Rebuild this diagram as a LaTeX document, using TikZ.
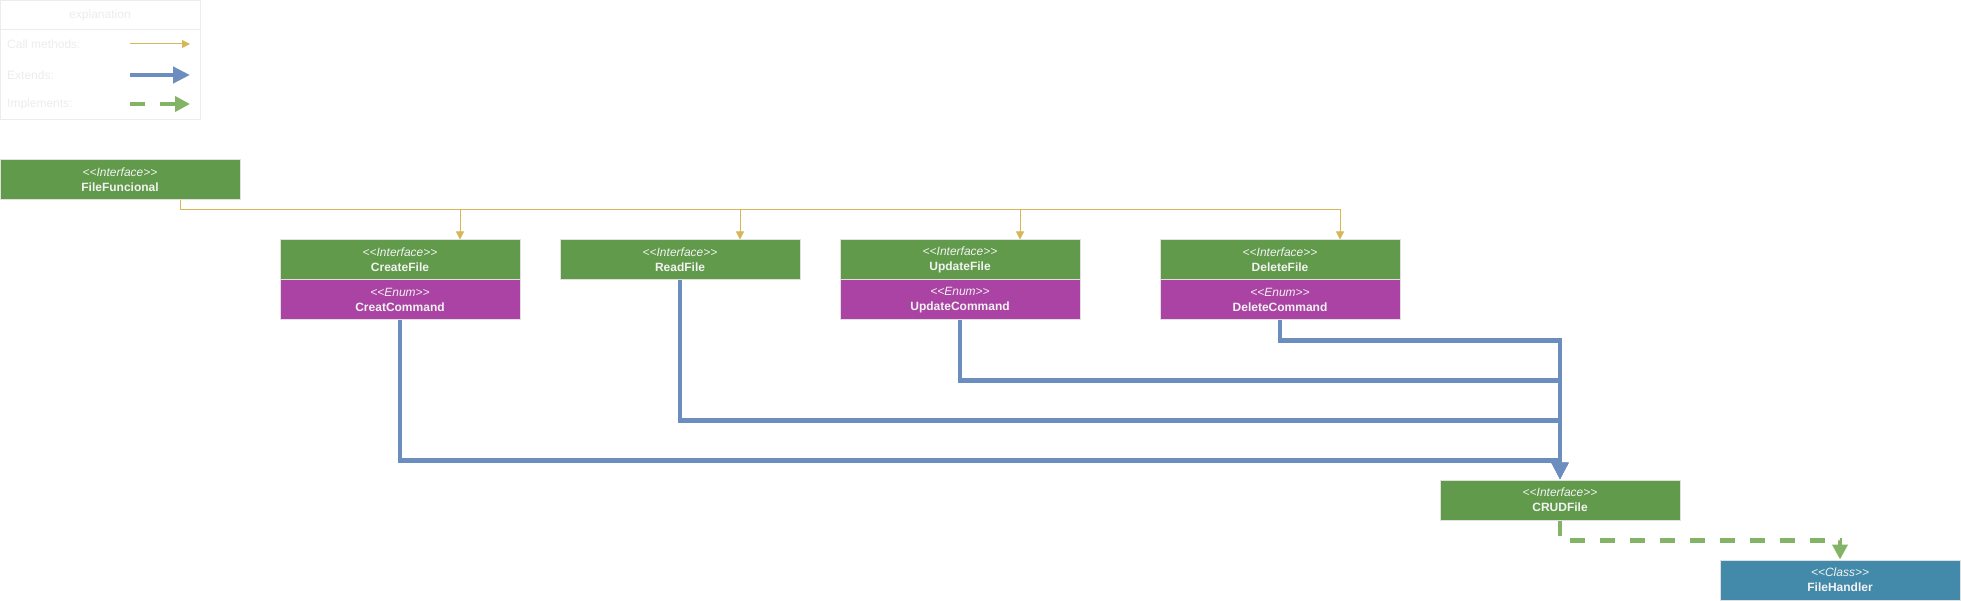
\documentclass[tikz,border=0pt]{standalone}
\usepackage{fontspec}
\setmainfont{Liberation Sans}
\usetikzlibrary{arrows.meta}
\definecolor{intfgreen}{RGB}{96,154,74}
\definecolor{enumpurple}{RGB}{170,67,163}
\definecolor{classblue}{RGB}{67,138,170}
\definecolor{callcol}{RGB}{214,182,86}
\definecolor{extcol}{RGB}{108,142,191}
\definecolor{implcol}{RGB}{130,179,102}
\definecolor{boxtext}{RGB}{242,242,242}
\definecolor{legendcol}{RGB}{236,236,236}
\newcommand\stereo[1]{\textit{\textless\kern0pt\textless#1\textgreater\kern0pt\textgreater}}
\tikzset{
  umlbox/.style={rectangle,draw=white!88!black,line width=1pt,minimum width=240pt,minimum height=40pt,
    inner sep=0pt,align=center,text=boxtext,font=\fontsize{12}{15}\selectfont},
  umlintf/.style={umlbox,fill=intfgreen},
  umlenum/.style={umlbox,fill=enumpurple},
  umlclass/.style={umlbox,fill=classblue},
  callm/.style={draw=callcol,line width=1pt,-{Triangle[length=8pt,width=8pt]}},
  extendsarr/.style={draw=extcol,line width=4.5pt,-{Triangle[length=17pt,width=16pt]}},
  implarr/.style={draw=implcol,line width=4.5pt,dash pattern=on 15pt off 15pt,-{Triangle[length=15pt,width=15pt]}},
  legendtext/.style={text=legendcol,font=\fontsize{12}{14}\selectfont,inner sep=0pt}
}
\begin{document}
\begin{tikzpicture}[x=1pt,y=-1pt]
\useasboundingbox (0,0) rectangle (1961,601);
% legend
\draw[legendcol,line width=1pt] (0.5,0.5) rectangle (200,120);
\draw[legendcol,line width=1pt] (0.5,30) -- (200,30);
\node[legendtext] (legtitle) at (100,15) {explanation};
\node[legendtext,anchor=west] (legcall) at (7,44) {Call methods:};
\node[legendtext,anchor=west] (legext) at (7,75) {Extends:};
\node[legendtext,anchor=west] (legimpl) at (7,104) {Implements:};
\coordinate (callA) at (130,44);  \coordinate (callB) at (190,44);
\coordinate (extA) at (130,75);   \coordinate (extB) at (190,75);
\coordinate (implA) at (130,104); \coordinate (implB) at (190,104);
\draw[callm] (callA) -- (callB);
\draw[extendsarr] (extA) -- (extB);
\draw[implarr] (implA) -- (implB);
% classes
\node[umlintf] (ff) at (120,180) {\stereo{Interface}\\\textbf{FileFuncional}};
\node[umlintf] (create) at (400,260) {\stereo{Interface}\\\textbf{CreateFile}};
\node[umlenum] (creatcmd) at (400,300) {\stereo{Enum}\\\textbf{CreatCommand}};
\node[umlintf] (read) at (680,260) {\stereo{Interface}\\\textbf{ReadFile}};
\node[umlintf] (upd) at (960,260) {\stereo{Interface}\\\textbf{UpdateFile}};
\node[umlenum] (updcmd) at (960,300) {\stereo{Enum}\\\textbf{UpdateCommand}};
\node[umlintf] (del) at (1280,260) {\stereo{Interface}\\\textbf{DeleteFile}};
\node[umlenum] (delcmd) at (1280,300) {\stereo{Enum}\\\textbf{DeleteCommand}};
\node[umlintf] (crud) at (1560,500) {\stereo{Interface}\\\textbf{CRUDFile}};
\node[umlclass] (handler) at (1840,580) {\stereo{Class}\\\textbf{FileHandler}};
% call methods
\coordinate (callbus) at (180,210);
\draw[callm] (ff.south -| callbus) -- (callbus) -| ([xshift=60pt]create.north);
\draw[callm] (callbus) -| ([xshift=60pt]read.north);
\draw[callm] (callbus) -| ([xshift=60pt]upd.north);
\draw[callm] (callbus) -| ([xshift=60pt]del.north);
% extends
\draw[extendsarr] (delcmd.south) -- ++(0,20) -| (crud.north);
\draw[extendsarr] (updcmd.south) -- ++(0,60) -| (crud.north);
\draw[extendsarr] (read.south) -- ++(0,140) -| (crud.north);
\draw[extendsarr] (creatcmd.south) -- ++(0,140) -| (crud.north);
% implements
\draw[implarr] (crud.south) -- ++(0,20) -| (handler.north);
\end{tikzpicture}
\end{document}
